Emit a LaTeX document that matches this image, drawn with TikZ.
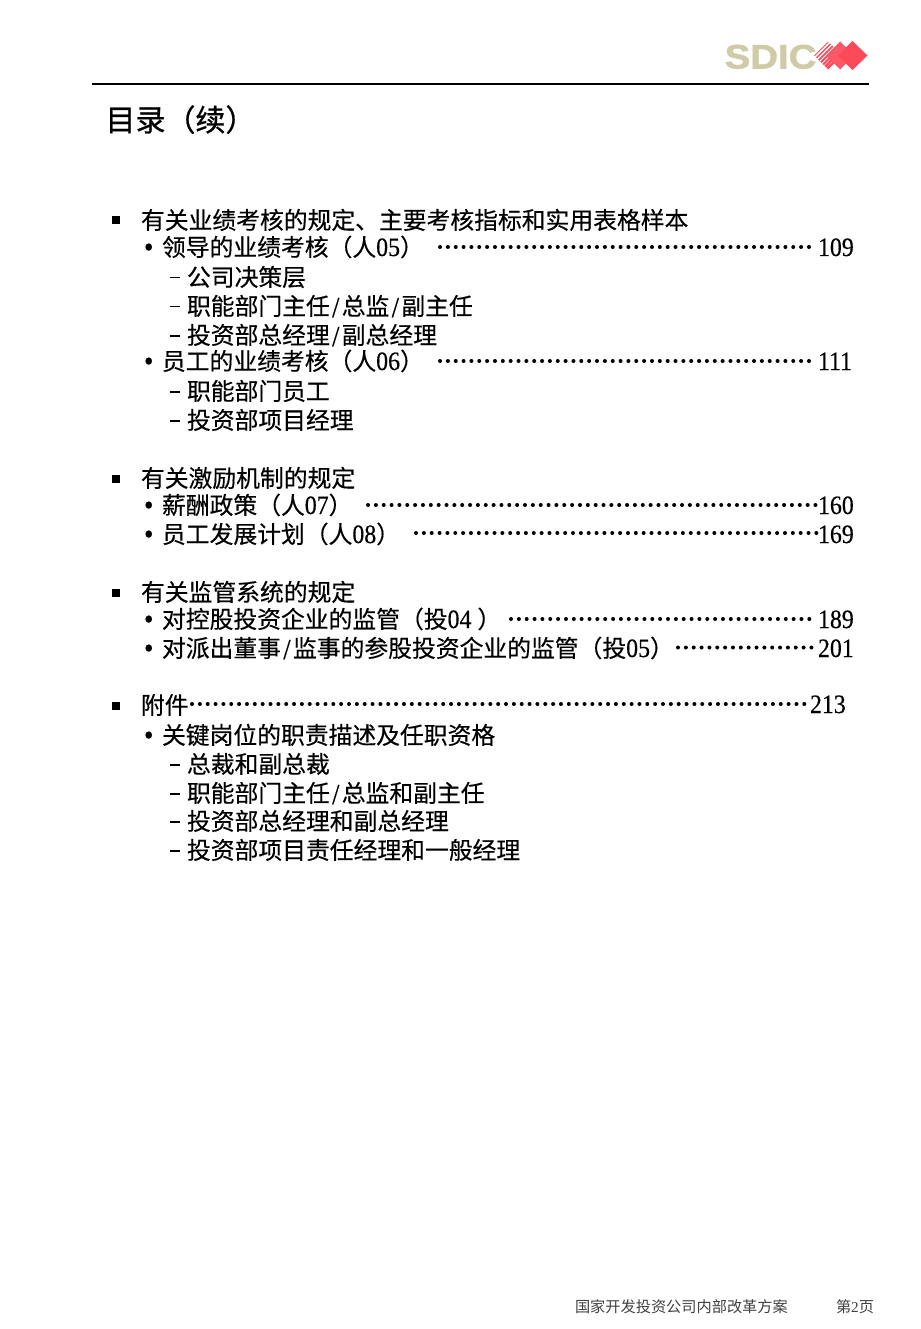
\documentclass[tikz,border=0pt]{standalone}
\usepackage{fontspec}
\setmainfont{Liberation Serif}
\newfontfamily\numfont[FakeBold=0.35,FakeStretch=0.9]{Liberation Serif}
\newfontfamily\logofont[UprightFont=* Bold,FakeBold=1.5,FakeStretch=1.13]{Liberation Sans}
\newfontfamily\cjk[FakeBold=0.35]{Noto Sans CJK SC}
\newfontfamily\cjktitle[FakeBold=0.9]{Noto Sans CJK SC}
\newfontfamily\cjkplain{Noto Sans CJK SC}
\usepackage{tikz}
\usetikzlibrary{
  positioning
}
\definecolor{logotan}{HTML}{CFCBA6}
\definecolor{logored}{HTML}{FC4A5A}
\definecolor{footgray}{HTML}{404040}
\newcommand{\dg}[1]{{\numfont\fontsize{26.5}{28}\selectfont #1}}
\newcommand{\slsh}{\hbox to 12pt{\hss\raisebox{-2pt}{\numfont\fontsize{29}{29}\selectfont /}\hss}}
\newcommand{\sqbul}{\hbox to 29pt{\rule[4.5pt]{8pt}{8pt}\hfil}}
\newcommand{\dotbul}{\hbox to 16pt{\numfont\fontsize{30}{30}\selectfont\hspace{-2pt}\raisebox{-1pt}{\char"2022}\hfil}}
\newcommand{\dashbul}{\hbox to 19pt{\hspace{2pt}\rule[7.5pt]{10pt}{1.2pt}\hfil}}
\tikzset{
  rowtext/.style={anchor=base west,inner sep=0pt,outer sep=0pt,font=\cjk\fontsize{23.8}{28}\selectfont},
  pagenum/.style={anchor=base west,inner sep=0pt,outer sep=0pt,font=\numfont\fontsize{26.5}{28}\selectfont},
  leaderdots/.style={line width=4pt,line cap=round,dash pattern=on 0pt off 7.85pt,shorten >=1.5pt},
}
\begin{document}
\begin{tikzpicture}[x=1pt,y=-1pt]
            \useasboundingbox (0,0) rectangle (920,1329);

            % logo
            \node[anchor=base west,inner sep=0pt,text=logotan,font=\logofont\fontsize{34}{34}\selectfont] (logotext) at (724.5,68.5) {SDIC};
            \begin{scope}
              \clip (828,41.5) -- (842,55.5) -- (828,69.5) -- (814,55.5) -- cycle;
              \foreach \i in {0,4.4,...,44} {
                \pgfmathsetmacro{\w}{1.3+0.055*\i}
                \draw[logored,line width=\w pt] (800+\i,70) -- (800+\i+28,42);
              }
            \end{scope}
            \fill[logored!92!white] (840,41.5) -- (854,55.5) -- (840,69.5) -- (826,55.5) -- cycle;
            \fill[logored] (852.5,41) -- (867.5,55.5) -- (852.5,70) -- (837.5,55.5) -- cycle;

            \draw[line width=1.6pt] (92,84) -- (868.5,84);

            \node[rowtext,font=\cjktitle\fontsize{30}{34}\selectfont] (title) at (105.5,131) {目录（续）};

            % first group
            \node[rowtext] (grpa) at (112,229) {\sqbul 有关业绩考核的规定、主要考核指标和实用表格样本};
            \node[rowtext] (leada) at (146,256) {\dotbul 领导的业绩考核（人\dg{05}）};
            \node[pagenum] (numa) at (818,256) {109};
            \coordinate (dota) at (440,247);
            \draw[leaderdots] (dota) -- (dota -| numa.west);
            \node[rowtext] (leadb) at (168,286) {\dashbul 公司决策层};
            \node[rowtext] (leadc) at (168,315) {\dashbul 职能部门主任\slsh 总监\slsh 副主任};
            \node[rowtext] (leadd) at (168,344) {\dashbul 投资部总经理\slsh 副总经理};
            \node[rowtext] (staffa) at (146,370) {\dotbul 员工的业绩考核（人\dg{06}）};
            \node[pagenum] (numb) at (818,370) {111};
            \coordinate (dotb) at (440,361);
            \draw[leaderdots] (dotb) -- (dotb -| numb.west);
            \node[rowtext] (staffb) at (168,400) {\dashbul 职能部门员工};
            \node[rowtext] (staffc) at (168,429) {\dashbul 投资部项目经理};

            % second group
            \node[rowtext] (grpb) at (112,487) {\sqbul 有关激励机制的规定};
            \node[rowtext] (paya) at (146,514) {\dotbul 薪酬政策（人\dg{07}）};
            \node[pagenum] (numc) at (818,514) {160};
            \coordinate (dotc) at (368,505);
            \draw[leaderdots] (dotc) -- (dotc -| numc.west);
            \node[rowtext] (payb) at (146,543) {\dotbul 员工发展计划（人\dg{08}）};
            \node[pagenum] (numd) at (818,543) {169};
            \coordinate (dotd) at (416,533);
            \draw[leaderdots] (dotd) -- (dotd -| numd.west);

            % third group
            \node[rowtext] (grpc) at (112,601) {\sqbul 有关监管系统的规定};
            \node[rowtext] (supa) at (146,628) {\dotbul 对控股投资企业的监管（投\dg{04}\hspace{6pt}）};
            \node[pagenum] (nume) at (818,628) {189};
            \coordinate (dote) at (511,619);
            \draw[leaderdots] (dote) -- (dote -| nume.west);
            \node[rowtext] (supb) at (146,657) {\dotbul 对派出董事\slsh 监事的参股投资企业的监管（投\dg{05}）};
            \node[pagenum] (numf) at (818,657) {201};
            \coordinate (dotf) at (678,647.5);
            \draw[leaderdots] (dotf) -- (dotf -| numf.west);

            % annex
            \node[rowtext] (grpd) at (112,714) {\sqbul 附件};
            \node[pagenum] (numg) at (810,713) {213};
            \coordinate (dotg) at (192,704);
            \draw[leaderdots] (dotg) -- (dotg -| numg.west);
            \node[rowtext] (anna) at (146,744) {\dotbul 关键岗位的职责描述及任职资格};
            \node[rowtext] (annb) at (168,773) {\dashbul 总裁和副总裁};
            \node[rowtext] (annc) at (168,802) {\dashbul 职能部门主任\slsh 总监和副主任};
            \node[rowtext] (annd) at (168,830) {\dashbul 投资部总经理和副总经理};
            \node[rowtext] (anne) at (168,859) {\dashbul 投资部项目责任经理和一般经理};

            % footer
            \node[rowtext,text=footgray,font=\cjkplain\fontsize{15.2}{18}\selectfont] (foota) at (575,1312) {国家开发投资公司内部改革方案};
            \node[rowtext,text=footgray,font=\cjkplain\fontsize{15.2}{18}\selectfont] (footb) at (836,1312) {第{\rmfamily 2}页};
        \end{tikzpicture}
\end{document}
